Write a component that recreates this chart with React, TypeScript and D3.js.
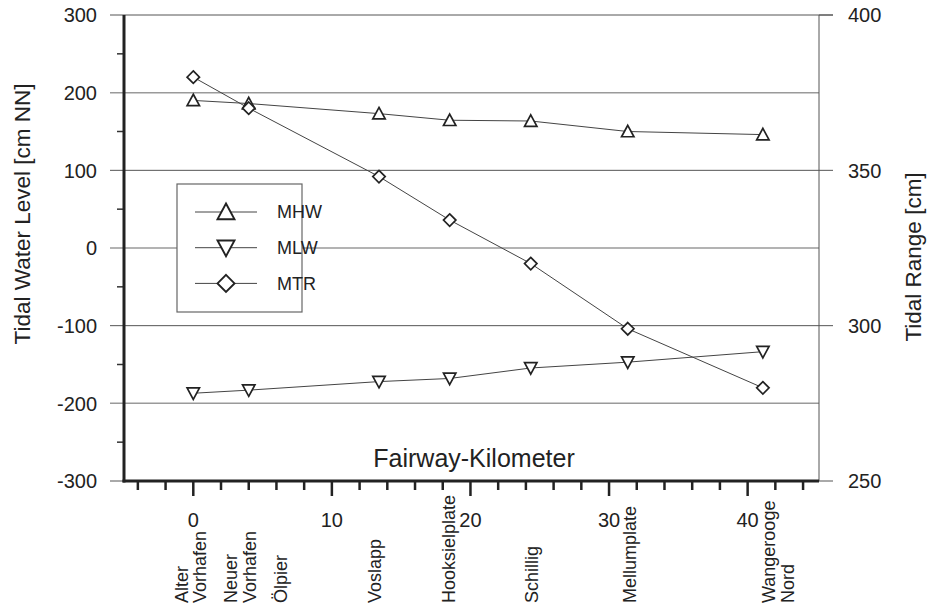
import React from "react";
import * as d3 from "d3";

// fairway km of the measuring stations and the tidal values there
const pointKm = [0, 4.0, 13.4, 18.5, 24.35, 31.35, 41.1];
const mhw = [190, 186, 173, 164.5, 163.5, 150, 146];
const mlw = [-187, -183, -172, -168, -154.5, -147, -133.5];
const mtr = [380, 370, 348, 334, 320, 299, 280];

// station names under the axis
const stationNames = [
  ["Alter", "Vorhafen"],
  ["Neuer", "Vorhafen"],
  ["Ölpier"],
  ["Voslapp"],
  ["Hooksielplate"],
  ["Schillig"],
  ["Mellumplate"],
  ["Wangerooge", "Nord"],
];
const stationKm = [-0.2, 3.4, 6.3, 13.1, 18.4, 24.4, 31.5, 42.2];

const leftTicks = [-300, -200, -100, 0, 100, 200, 300];
const leftMinor = [-250, -150, -50, 50, 150, 250];
const rightTicks = [250, 300, 350, 400];
const kmLabels = [0, 10, 20, 30, 40];

const legendNames = ["MHW", "MLW", "MTR"];

const W = 931, H = 607;
const L = 124, R = 819, T = 15, B = 481;
const FONT = "'Liberation Sans', Arial, sans-serif";

const x = d3.scaleLinear().domain([-5, 45.15]).range([L, R]);
const yL = d3.scaleLinear().domain([-300, 300]).range([B, T]);
const yR = d3.scaleLinear().domain([250, 400]).range([B, T]);

const up = (s: number) => `M0,${-s}L${s},${s * 0.85}L${-s},${s * 0.85}Z`;
const down = (s: number) => `M0,${s}L${s},${-s * 0.85}L${-s},${-s * 0.85}Z`;
const diamond = (s: number) => `M0,${-s}L${s},0L0,${s}L${-s},0Z`;

const shapes = [up, down, diamond];

export default function App() {
  const lineL = d3.line<number>().x((_, i) => x(pointKm[i])).y((d) => yL(d));
  const lineR = d3.line<number>().x((_, i) => x(pointKm[i])).y((d) => yR(d));

  const series = [
    { vals: mhw, path: lineL(mhw), y: yL, shape: up },
    { vals: mlw, path: lineL(mlw), y: yL, shape: down },
    { vals: mtr, path: lineR(mtr), y: yR, shape: diamond },
  ];

  const minorKm = d3.range(-4, 45, 2);

  return (
    <svg width={W} height={H} style={{ position: "absolute", left: 0, top: 0 }} fontFamily={FONT}>
      <rect width={W} height={H} fill="#fff" />
      {/* gridlines */}
      {leftTicks.filter((v) => v > -300).map((v) => (
        <line key={"g" + v} x1={110} x2={v === 300 ? 833 : R} y1={yL(v)} y2={yL(v)}
          stroke={v % 200 === 0 ? "#9a9a9a" : "#555"} strokeWidth={v % 200 === 0 ? 1.5 : 1} />
      ))}
      <line x1={110} x2={L} y1={B} y2={B} stroke="#555" />

      {/* series lines */}
      {series.map((s, i) => (
        <path key={"l" + i} d={s.path || ""} fill="none" stroke="#444" strokeWidth={1} />
      ))}
      {series.map((s, i) =>
        s.vals.map((v, j) => (
          <path key={"m" + i + "-" + j} d={s.shape(6.2)}
            transform={`translate(${x(pointKm[j])},${s.y(v)})`}
            fill="#fff" stroke="#222" strokeWidth={1.7} />
        ))
      )}

      {/* legend */}
      <rect x={177} y={184} width={125} height={128} fill="#fff" stroke="#666" strokeWidth={1.2} />
      {legendNames.map((n, i) => {
        const ly = 212 + i * 35.7;
        return (
          <g key={n}>
            <line x1={195} x2={257} y1={ly} y2={ly} stroke="#444" />
            <path d={shapes[i](8.5)} transform={`translate(226,${ly})`} fill="#fff" stroke="#222" strokeWidth={1.9} />
            <text x={277} y={ly} dy="0.35em" fontSize={18} fill="#222">{n}</text>
          </g>
        );
      })}

      <text x={474} y={467} textAnchor="middle" fontSize={25} fill="#222">Fairway-Kilometer</text>

      {/* left axis */}
      {leftMinor.map((v) => (
        <line key={"lm" + v} x1={117} x2={L} y1={yL(v)} y2={yL(v)} stroke="#333" strokeWidth={1.5} />
      ))}
      {leftTicks.map((v) => (
        <text key={"lt" + v} x={97} y={yL(v)} dy="0.36em" textAnchor="end" fontSize={20} fill="#222">{v}</text>
      ))}
      <line x1={L} x2={L} y1={T} y2={B + 1.5} stroke="#222" strokeWidth={3} />
      <text transform={`translate(22,214) rotate(-90)`} textAnchor="middle" dy="0.35em" fontSize={22.5} fill="#222">
        Tidal Water Level [cm NN]
      </text>

      {/* right axis */}
      <line x1={R} x2={R} y1={T} y2={B} stroke="#555" strokeWidth={1} />
      {rightTicks.map((v) => (
        <g key={"rt" + v}>
          <line x1={R} x2={833} y1={yR(v)} y2={yR(v)} stroke="#555" />
          <text x={848} y={yR(v)} dy="0.36em" fontSize={20} fill="#222">{v}</text>
        </g>
      ))}
      <text transform={`translate(913,257) rotate(-90)`} textAnchor="middle" dy="0.35em" fontSize={22.5} fill="#222">
        Tidal Range [cm]
      </text>

      {/* bottom axis */}
      <line x1={L - 1.5} x2={R} y1={B} y2={B} stroke="#222" strokeWidth={3} />
      {minorKm.map((k) => (
        <line key={"xt" + k} x1={x(k)} x2={x(k)} y1={B} y2={k % 10 === 0 ? B + 15 : B + 9} stroke="#222" strokeWidth={2.5} />
      ))}
      {kmLabels.map((k) => (
        <text key={"xl" + k} x={x(k)} y={527} textAnchor="middle" fontSize={20} fill="#222">{k}</text>
      ))}
      {stationNames.map((lines, i) =>
        lines.map((t, j) => {
          const cx = x(stationKm[i]) + (j - (lines.length - 1) / 2) * 18.5;
          return (
            <text key={"st" + i + "-" + j} transform={`translate(${cx},603) rotate(-90)`} dy="0.35em" fontSize={18} fill="#222">
              {t}
            </text>
          );
        })
      )}
    </svg>
  );
}
